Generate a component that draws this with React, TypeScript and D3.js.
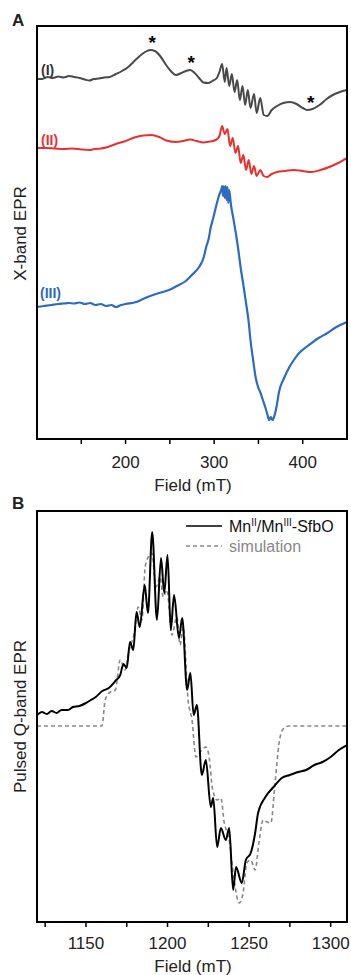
import * as d3 from 'd3';

// Panel A – X-band EPR, three offset traces (field in mT, signal in arbitrary units)
const fieldI = [100, 106, 112, 118, 124, 130, 136, 142, 148, 154, 159, 164, 170, 176, 182, 189, 196, 203, 210, 216, 222, 228, 233, 239, 245, 251, 257, 263, 268, 273, 278, 283, 288, 293, 298, 303, 306, 309, 312, 314, 317, 320, 323, 326, 329, 332, 335, 338, 341, 345, 348, 352, 356, 360, 365, 371, 378, 386, 393, 400, 405, 411, 419, 427, 434, 442, 450];
const sigI = [360, 360, 362, 361, 362.5, 361.5, 363, 362, 361, 359.5, 358.5, 360, 360.5, 361.5, 362, 365, 368, 372, 378, 383, 387, 389, 388, 383, 375, 368, 364, 366, 368, 369, 366, 361, 356.5, 356, 358, 361, 367, 375, 357, 371, 353, 365, 347, 359, 339, 353, 334, 349, 331, 345, 326, 341, 324, 323, 329, 333, 336, 337, 335, 331, 329, 330, 334, 340, 344, 347, 349];

const fieldII = [100, 110, 120, 130, 140, 150, 159, 165, 172, 180, 189, 200, 210, 220, 229, 238, 246, 257, 265, 273, 280, 288, 295, 302, 306, 309, 312, 315, 318, 321, 324, 327, 330, 333, 336, 339, 342, 345, 348, 352, 356, 360, 365, 371, 380, 390, 400, 410, 420, 430, 440, 450];
const sigII = [291, 291, 290.5, 290, 290.5, 289.5, 289, 290, 290.5, 292, 295, 298, 301.5, 303.5, 304, 302, 298.5, 297, 298, 299.5, 298, 296.5, 297.5, 299, 303, 313, 305, 310, 293, 301, 286, 293, 276, 284, 269, 279, 265, 273, 263, 269, 263, 262, 265, 267, 268, 269, 268, 267, 269, 272, 276, 281];

const fieldIII = [100, 108, 116, 124, 130, 136, 142, 148, 154, 160, 166, 172, 178, 184, 189, 195, 200, 212, 222, 231, 240, 249, 258, 268, 276, 283, 288, 291, 294, 296, 299, 302, 305, 307, 308, 309, 310, 311, 312, 313, 314, 315, 316, 317, 319, 322, 325, 327, 330, 333, 336, 339, 341, 344, 347, 350, 352, 355, 358, 360, 362, 364, 366, 368, 371, 373, 379, 385, 390, 396, 404, 410, 418, 428, 438, 450];
const sigIII = [132, 133, 134, 135, 135.5, 136, 135.5, 136.5, 135, 136, 134, 135, 133, 134, 132, 134, 135, 137, 141, 144, 146.5, 149, 153, 158, 165, 172, 181, 192, 201, 211, 221, 232, 242, 247, 249, 253, 243, 253, 241, 253, 239, 252, 236, 249, 234, 219, 203, 191, 171, 154, 136, 117, 99, 79, 61, 51, 47, 39, 31, 25, 19, 22, 19, 23, 35, 46, 61, 72, 79, 86, 92, 96, 101, 106, 112, 117];

const ticksA = [150, 200, 250, 300, 350, 400];
const labelsA = [200, 300, 400];

// Panel B – pulsed Q-band EPR, measured vs simulated
const fieldExp = [1120, 1123, 1126, 1129, 1132, 1135, 1139, 1142, 1146, 1150, 1153, 1156, 1160, 1164, 1168, 1171, 1173, 1175, 1177, 1179, 1181, 1183, 1186, 1188, 1190.6, 1193.5, 1196, 1198, 1200, 1202, 1204, 1207, 1209, 1212, 1214, 1216, 1218, 1221, 1223.5, 1226.5, 1228, 1230.4, 1232.7, 1235.7, 1237.8, 1240.2, 1242, 1245.5, 1248, 1251, 1253.7, 1255.5, 1260, 1265, 1270, 1275, 1280, 1285, 1290, 1295, 1300, 1305, 1310];
const sigExp = [207, 210, 208, 211, 209, 212, 212, 215, 216, 219, 222, 225, 231, 234, 241, 247, 258, 254, 280, 272, 310, 295, 337, 309, 390, 302, 364, 329, 367, 292, 327, 284, 304, 232, 249, 207, 217, 147, 162, 115, 124, 75, 94, 82, 94, 32, 55, 39, 62, 69, 89, 109, 125, 135, 144, 147, 150, 152, 157, 160, 165, 172, 177];

const fieldSim = [1120, 1159.8, 1161.8, 1164.9, 1168, 1171, 1174, 1176, 1180, 1182, 1184.3, 1186.3, 1188.2, 1190.4, 1192.9, 1195.5, 1197.3, 1199.6, 1202.7, 1205.7, 1207.7, 1209.6, 1212.6, 1215, 1217.4, 1220, 1223.5, 1225.5, 1227.5, 1230.4, 1232.7, 1234.7, 1237.8, 1240.8, 1243.9, 1246.3, 1248.6, 1251, 1253.7, 1256, 1258.6, 1261, 1263.3, 1265.9, 1268.4, 1270.4, 1274.5, 1310];
const sigSim = [196, 196, 222, 230, 232, 262, 252, 269, 292, 315, 302, 355, 365, 369, 335, 345, 325, 332, 287, 305, 277, 295, 222, 202, 165, 170, 175, 165, 134, 122, 124, 100, 82, 42, 19, 29, 59, 62, 52, 79, 102, 100, 99, 139, 179, 192, 196, 196];

const ticksB = [1125, 1150, 1175, 1200, 1225, 1250, 1275, 1300];
const labelsB = [1150, 1200, 1250, 1300];

const FONT = 'Liberation Sans, Arial, Helvetica, sans-serif';

const zip = (xs: number[], ys: number[]) => xs.map((x, i) => [x, ys[i]] as [number, number]);

export default function App() {
  const left = 37;
  const right = 347;

  // panel A
  const topA = 26;
  const botA = 439;
  const xA = d3.scaleLinear().domain([100, 450]).range([left, right]);
  const yA = d3.scaleLinear().domain([0, 413]).range([botA, topA]);
  const lineA = d3
    .line<[number, number]>()
    .x((d) => xA(d[0]))
    .y((d) => yA(d[1]))
    .curve(d3.curveMonotoneX);

  // panel B
  const topB = 511;
  const botB = 922;
  const xB = d3.scaleLinear().domain([1120, 1310]).range([left, right]);
  const yB = d3.scaleLinear().domain([0, 411]).range([botB, topB]);
  const lineB = d3
    .line<[number, number]>()
    .x((d) => xB(d[0]))
    .y((d) => yB(d[1]))
    .curve(d3.curveMonotoneX);

  return (
    <div style={{ position: 'absolute', left: 0, top: 0 }}>
      <svg width={351} height={975} style={{ display: 'block', background: '#fff' }} fontFamily={FONT}>
        {/* ---------- Panel A ---------- */}
        <text x={12} y={26} fontSize={17} fontWeight="bold" fill="#222">A</text>
        <defs>
          <clipPath id="clipA">
            <rect x={left} y={topA} width={right - left} height={botA - topA} />
          </clipPath>
          <clipPath id="clipB">
            <rect x={left} y={topB} width={right - left} height={botB - topB} />
          </clipPath>
        </defs>
        <g clipPath="url(#clipA)">
          <path d={lineA(zip(fieldI, sigI)) || ''} fill="none" stroke="#4a4a4a" strokeWidth={2} strokeLinejoin="round" />
          <path d={lineA(zip(fieldII, sigII)) || ''} fill="none" stroke="#e8312f" strokeWidth={2} strokeLinejoin="round" />
          <path d={lineA(zip(fieldIII, sigIII)) || ''} fill="none" stroke="#2b6cc0" strokeWidth={2.2} strokeLinejoin="round" />
        </g>
        <text x={41} y={75} fontSize={14} fontWeight="bold" fill="#333">(I)</text>
        <text x={41} y={145} fontSize={14} fontWeight="bold" fill="#e8312f">(II)</text>
        <text x={40} y={298} fontSize={14} fontWeight="bold" fill="#2b6cc0">(III)</text>
        {[
          [229, 389],
          [273, 369],
          [408, 329],
        ].map(([f, s], i) => (
          <text key={i} x={xA(f) + 1} y={yA(s) - 1} fontSize={19} fontWeight="bold" textAnchor="middle">*</text>
        ))}
        <rect x={left} y={topA} width={right - left} height={botA - topA} fill="none" stroke="#000" strokeWidth={2} />
        {ticksA.map((t) => (
          <line key={t} x1={xA(t)} x2={xA(t)} y1={botA} y2={botA + 5} stroke="#000" strokeWidth={1.5} />
        ))}
        {labelsA.map((t) => (
          <text key={t} x={xA(t)} y={468} fontSize={17} textAnchor="middle" fill="#222">{t}</text>
        ))}
        <text x={(left + right) / 2 + 1} y={491} fontSize={17} textAnchor="middle" fill="#222">Field (mT)</text>
        <text transform={`translate(26,${(topA + botA) / 2 + 1}) rotate(-90)`} fontSize={17} textAnchor="middle" fill="#222">X-band EPR</text>

        {/* ---------- Panel B ---------- */}
        <text x={12} y={509} fontSize={17} fontWeight="bold" fill="#222">B</text>
        <g clipPath="url(#clipB)">
          <path d={lineB(zip(fieldSim, sigSim)) || ''} fill="none" stroke="#888" strokeWidth={1.6} strokeDasharray="4,3" />
          <path d={lineB(zip(fieldExp, sigExp)) || ''} fill="none" stroke="#000" strokeWidth={2} strokeLinejoin="round" />
        </g>
        <rect x={left} y={topB} width={right - left} height={botB - topB} fill="none" stroke="#000" strokeWidth={2} />
        {ticksB.map((t) => (
          <line key={t} x1={xB(t)} x2={xB(t)} y1={botB} y2={botB + 5} stroke="#000" strokeWidth={1.5} />
        ))}
        {labelsB.map((t) => (
          <text key={t} x={xB(t)} y={949} fontSize={17} textAnchor="middle" fill="#222">{t}</text>
        ))}
        <text x={(left + right) / 2 + 1} y={972} fontSize={17} textAnchor="middle" fill="#222">Field (mT)</text>
        <text transform={`translate(26,${(topB + botB) / 2}) rotate(-90)`} fontSize={17} textAnchor="middle" fill="#222">Pulsed Q-band EPR</text>

        {/* legend */}
        <line x1={186} x2={222} y1={526} y2={526} stroke="#000" strokeWidth={1.5} />
        <text x={229} y={532} fontSize={16} fill="#111">
          Mn<tspan dy={-6} fontSize={10}>II</tspan>
          <tspan dy={6}>/Mn</tspan>
          <tspan dy={-6} fontSize={10}>III</tspan>
          <tspan dy={6}>-SfbO</tspan>
        </text>
        <line x1={186} x2={222} y1={546} y2={546} stroke="#888" strokeWidth={1.5} strokeDasharray="4,3" />
        <text x={229} y={552} fontSize={16} fill="#888">simulation</text>
      </svg>
    </div>
  );
}
